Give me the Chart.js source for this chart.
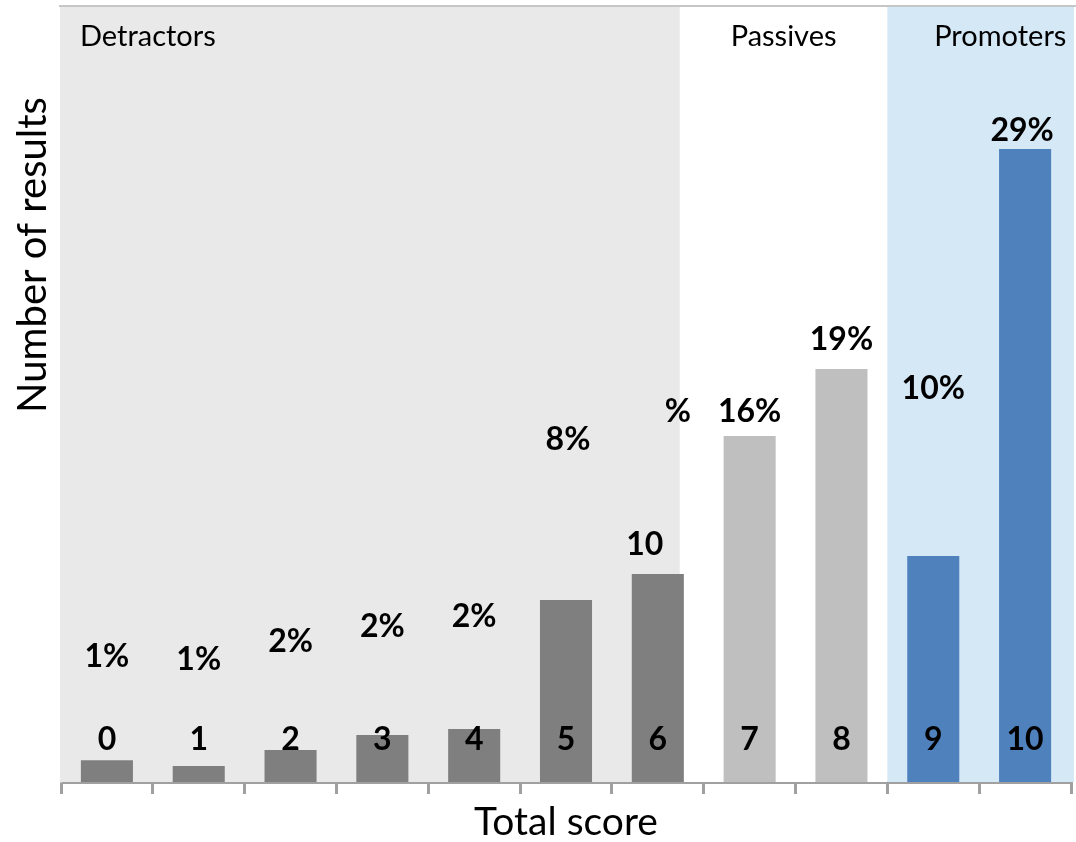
<!DOCTYPE html>
<html>
<head>
<meta charset="utf-8">
<script src="https://cdn.jsdelivr.net/npm/chart.js@4.4.1/dist/chart.umd.min.js"></script>
<style>
    html, body { margin: 0; padding: 0; background: #fff; }
    #wrap { width: 1076px; height: 842px; }
</style>
</head>
<body>
<div id="wrap"><canvas id="npsChart"></canvas></div>
<script>
// Data
const scores = ['0', '1', '2', '3', '4', '5', '6', '7', '8', '9', '10'];
const shareOfResults = [1.0, 0.73, 1.47, 2.15, 2.43, 8.34, 9.53, 15.85, 18.92, 10.35, 29.0];
const percentLabels = ['1%', '1%', '2%', '2%', '2%', '8%', '%', '16%', '19%', '10%', '29%'];
const groupNames = ['Detractors', 'Passives', 'Promoters'];
const yAxisTitle = 'Number of results';
const xAxisTitle = 'Total score';

const FONT = 'Lato, "Open Sans", sans-serif';

function barColor(score) {
    const s = Number(score);
    if (s <= 6) return '#7f7f7f';
    if (s <= 8) return '#bfbfbf';
    return '#4f81bd';
}

// Shaded group bands behind the bars + group names + top border
const bandsPlugin = {
    id: 'bands',
    beforeDatasetsDraw(chart, args, opts) {
        const { ctx, chartArea } = chart;
        const x = chart.scales.x;
        const left = chartArea.left - 1;
        const right = chartArea.right + 3;
        const edges = [left, x.getPixelForValue(opts.detractorsEnd), x.getPixelForValue(opts.passivesEnd), right];
        ctx.save();
        opts.colors.forEach((c, i) => {
            ctx.fillStyle = c;
            ctx.fillRect(edges[i], chartArea.top, edges[i + 1] - edges[i], chartArea.bottom - chartArea.top);
        });
        // top border of the plot area
        ctx.strokeStyle = '#c6c6c6';
        ctx.lineWidth = 2;
        ctx.beginPath();
        ctx.moveTo(chartArea.left - 2, chartArea.top - 1);
        ctx.lineTo(chart.width, chartArea.top - 1);
        ctx.stroke();

        ctx.fillStyle = '#000';
        ctx.font = '29px ' + FONT;
        ctx.textBaseline = 'alphabetic';
        ctx.textAlign = 'left';
        ctx.fillText(groupNames[0], chartArea.left + 19, 46);
        ctx.textAlign = 'center';
        ctx.fillText(groupNames[1], x.getPixelForValue(opts.passivesLabelAt), 46);
        ctx.fillText(groupNames[2], x.getPixelForValue(opts.promotersLabelAt), 46);

        // y axis title, sitting higher than the axis centre like the original
        ctx.save();
        ctx.translate(33, 255);
        ctx.rotate(-Math.PI / 2);
        ctx.font = '40px ' + FONT;
        ctx.textBaseline = 'middle';
        ctx.fillText(yAxisTitle, 0, 0);
        ctx.restore();
        ctx.restore();
    }
};

// Percent labels (placed where the original had them) and the score inside each bar
const labelsPlugin = {
    id: 'barLabels',
    afterDatasetsDraw(chart, args, opts) {
        const { ctx, chartArea } = chart;
        const bars = chart.getDatasetMeta(0).data;
        ctx.save();
        ctx.fillStyle = '#000';
        ctx.textAlign = 'center';
        ctx.textBaseline = 'middle';
        ctx.font = 'bold 32px ' + FONT;
        bars.forEach((bar, i) => {
            ctx.fillText(percentLabels[i], bar.x + opts.dx[i], bar.y - opts.dy[i]);
        });
        // stray "10" above bar 6
        const b6 = bars[6];
        ctx.fillText('10', b6.x - 13, b6.y - 29);

        bars.forEach((bar, i) => {
            ctx.fillText(scores[i], bar.x, chartArea.bottom - 42);
        });
        ctx.restore();
    }
};

new Chart(document.getElementById('npsChart'), {
    type: 'bar',
    data: {
        labels: scores,
        datasets: [{
            data: shareOfResults,
            backgroundColor: scores.map(barColor),
            borderWidth: 0,
            categoryPercentage: 1,
            barPercentage: 0.567
        }]
    },
    options: {
        responsive: true,
        maintainAspectRatio: false,
        animation: false,
        layout: { padding: { left: 61, right: 5, top: 7, bottom: 0 } },
        plugins: {
            legend: { display: false },
            tooltip: { enabled: false },
            bands: {
                detractorsEnd: 6.24,
                passivesEnd: 8.5,
                passivesLabelAt: 7.37,
                promotersLabelAt: 9.73,
                colors: ['#e9e9e9', '#ffffff', '#d5e8f6']
            },
            barLabels: {
                dx: [0, 0, 0, 0, 0, 2, 20, 0, 0, 0, -3],
                dy: [103, 106, 108, 108, 112, 160, 162, 24, 29, 167, 18]
            }
        },
        scales: {
            x: {
                offset: true,
                ticks: { display: false },
                grid: {
                    offset: true,
                    drawOnChartArea: false,
                    drawTicks: true,
                    tickLength: 12,
                    lineWidth: 3,
                    color: '#a0a0a0'
                },
                border: { color: '#a0a0a0', width: 3 },
                title: {
                    display: true,
                    text: xAxisTitle,
                    color: '#000',
                    font: { family: FONT, size: 39, lineHeight: 1 },
                    padding: { top: 9, bottom: 0 }
                }
            },
            y: {
                min: 0,
                max: 35.5,
                ticks: { display: false },
                grid: { display: false, drawTicks: false },
                border: { color: '#c6c6c6', width: 2 },
                title: { display: false }
            }
        }
    },
    plugins: [bandsPlugin, labelsPlugin]
});
</script>
</body>
</html>
